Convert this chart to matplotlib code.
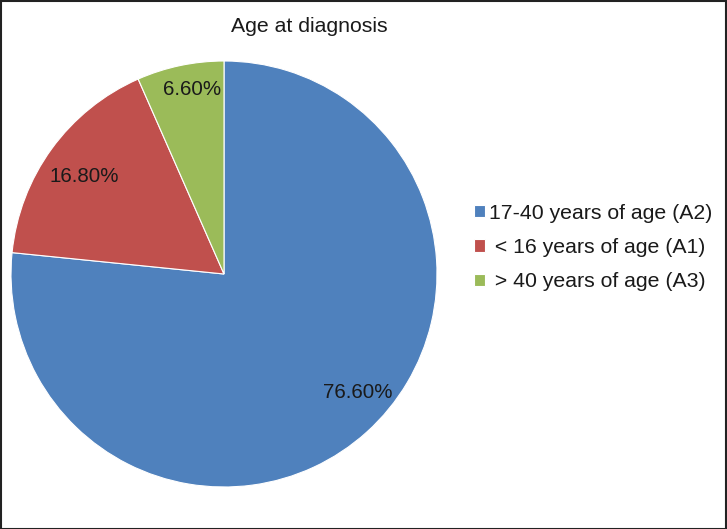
import matplotlib
matplotlib.use("Agg")
import numpy as np
import matplotlib.pyplot as plt
from matplotlib.patches import Rectangle

plt.rcParams['font.family'] = ['Liberation Sans', 'DejaVu Sans']

# data
labels = ["17-40 years of age (A2)", " < 16 years of age (A1)", " > 40 years of age (A3)"]
values = [76.6, 16.8, 6.6]
colors = ["#4F81BD", "#C0504D", "#9BBB59"]

# label placement (Excel "best fit"): shift from mid angle (deg) and radius
label_shift = [6.3, 1.0, -2.2]
label_dist = [0.84, 0.80, 0.88]

W, H = 727, 529
fig = plt.figure(figsize=(W / 100, H / 100), dpi=100)

# pie centre and radius in pixels
cx, cy, r = 224, 274, 213
ax = fig.add_axes([(cx - r) / W, (H - cy - r) / H, 2 * r / W, 2 * r / H])
wedges, texts, autotexts = ax.pie(
    values, colors=colors, startangle=90, counterclock=False,
    autopct=lambda p: f"{p:.2f}%",
    wedgeprops=dict(edgecolor="white", linewidth=0.8),
    textprops=dict(fontsize=14.8, color="#1a1a1a"))
for w, t, s, d in zip(wedges, autotexts, label_shift, label_dist):
    a = np.deg2rad((w.theta1 + w.theta2) / 2 + s)
    t.set_position((d * np.cos(a), d * np.sin(a)))
ax.set_xlim(-1, 1)
ax.set_ylim(-1, 1)
ax.set_aspect("equal")

fig.text(309 / W, 1 - 27 / H, "Age at diagnosis", ha="center", va="center",
         fontsize=15.3, color="#1a1a1a")

fig.legend(wedges, labels, loc="center left", bbox_to_anchor=(455 / W, 1 - 247.5 / H),
           frameon=False, fontsize=15.3, handlelength=0.52, handleheight=0.52,
           handletextpad=0.2, labelspacing=0.72, labelcolor="#1a1a1a")

# outer frame
fig.patches.append(Rectangle((0.5 / W, 0.5 / H), 1 - 1.5 / W, 1 - 1.5 / H,
                             transform=fig.transFigure, fill=False,
                             edgecolor="#222222", linewidth=1.5))

fig.savefig("out.png", dpi=100)
